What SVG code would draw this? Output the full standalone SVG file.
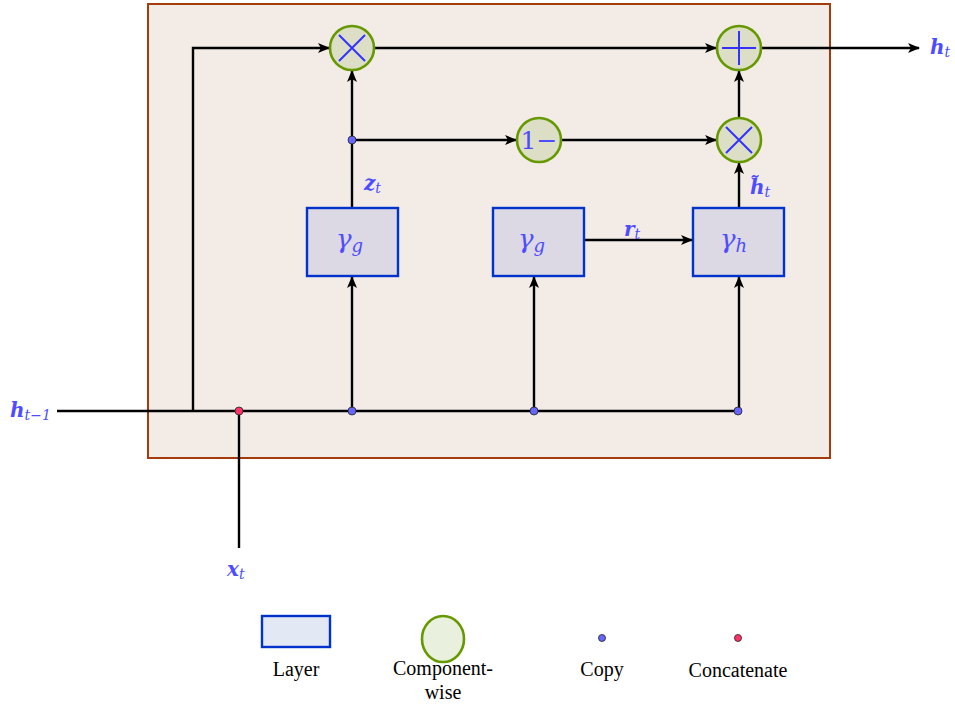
<svg xmlns="http://www.w3.org/2000/svg" width="955" height="706" viewBox="0 0 955 706">
<style>
.ln{stroke:#000;stroke-width:2.4;fill:none}
.arr{marker-end:url(#ah)}
.op{fill:#dcdfc6;stroke:#669900;stroke-width:2.6}
.sym{stroke:#3333ff;stroke-width:2;fill:none}
.layer{fill:#dcd8e4;stroke:#0033cc;stroke-width:2.4}
.cp{fill:#6666ff;stroke:#222;stroke-width:0.8}
.cc{fill:#ff3366;stroke:#222;stroke-width:0.8}
.gl{font-family:"DejaVu Serif",serif;font-style:italic;fill:#4d4dff;font-size:26px}
.lab{font-family:"DejaVu Serif",serif;font-style:italic;font-weight:bold;fill:#4d4dff;font-size:20px}
.sub{font-family:"DejaVu Serif",serif;font-style:italic;font-weight:normal;font-size:14px}
.leg{font-family:"Liberation Serif",serif;fill:#000;font-size:20px;text-anchor:middle}
</style>
<defs>
<marker id="ah" viewBox="0 0 12 10" refX="11" refY="5" markerWidth="12" markerHeight="10" markerUnits="userSpaceOnUse" orient="auto">
<path d="M0,0 L12,5 L0,10 L3,5 Z" fill="#000"/>
</marker>
</defs>
<rect id="cell" x="148" y="4" width="682" height="454" fill="#f3ebe6" stroke="#a33c0c" stroke-width="2"/>
<g id="connectors">
<path class="ln" d="M57,411 H739"/>
<path class="ln arr" d="M193,411 V48 H329"/>
<path class="ln" d="M239,411 V548"/>
<path class="ln arr" d="M352,411 V277"/>
<path class="ln arr" d="M534,411 V277"/>
<path class="ln arr" d="M739,411 V277"/>
<path class="ln arr" d="M352,208 V71"/>
<path class="ln arr" d="M352,140 H516"/>
<path class="ln arr" d="M561,140 H716"/>
<path class="ln arr" d="M739,208 V163"/>
<path class="ln arr" d="M739,118 V71"/>
<path class="ln arr" d="M374,48 H716"/>
<path class="ln arr" d="M761,48 H919"/>
<path class="ln arr" d="M584,240 H692"/>
</g>
<g id="mul1"><circle class="op" cx="352" cy="48" r="22"/><path class="sym" d="M339,35 L365,61 M365,35 L339,61"/></g>
<g id="add"><circle class="op" cx="739" cy="48" r="22"/><path class="sym" d="M722,48 H756 M739,31 V65"/></g>
<g id="oneminus"><circle class="op" cx="539" cy="140" r="22"/><text x="539" y="149" style="font-family:'DejaVu Serif',serif;fill:#4d4dff;font-size:25px" text-anchor="middle">1−</text></g>
<g id="mul2"><circle class="op" cx="739" cy="140" r="22"/><path class="sym" d="M726,127 L752,153 M752,127 L726,153"/></g>
<g id="gz"><rect class="layer" x="307" y="208" width="91" height="68"/><text class="gl" x="336" y="248">γ<tspan class="sub" style="font-size:18px" dy="4">g</tspan></text></g>
<g id="gr"><rect class="layer" x="493" y="208" width="91" height="68"/><text class="gl" x="518" y="248">γ<tspan class="sub" style="font-size:18px" dy="4">g</tspan></text></g>
<g id="gh"><rect class="layer" x="693" y="208" width="91" height="68"/><text class="gl" x="720" y="248">γ<tspan class="sub" style="font-size:18px" dy="4">h</tspan></text></g>
<g id="dots">
<circle class="cc" cx="239" cy="411" r="4"/>
<circle class="cp" cx="352" cy="411" r="4"/>
<circle class="cp" cx="534" cy="411" r="4"/>
<circle class="cp" cx="738" cy="411" r="4"/>
<circle class="cp" cx="352" cy="140" r="4"/>
</g>
<g id="labels">
<text class="lab" x="930" y="54">h<tspan class="sub" dy="3">t</tspan></text>
<text class="lab" x="10" y="417">h<tspan class="sub" dy="3">t−1</tspan></text>
<text class="lab" x="364" y="190">z<tspan class="sub" dy="3">t</tspan></text>
<text class="lab" x="750" y="194">h̃<tspan class="sub" dy="3">t</tspan></text>
<text class="lab" x="624" y="236">r<tspan class="sub" dy="3">t</tspan></text>
<text class="lab" x="227" y="576">x<tspan class="sub" dy="3">t</tspan></text>
</g>
<g id="legend">
<rect x="262" y="616" width="68" height="31" fill="#e3e8f5" stroke="#0033cc" stroke-width="2.4"/>
<ellipse cx="443" cy="639" rx="21" ry="23" fill="#e9f0dd" stroke="#669900" stroke-width="2.6"/>
<circle class="cp" cx="602" cy="638" r="3.5"/>
<circle class="cc" cx="738" cy="638" r="3.5"/>
<text class="leg" x="296" y="676">Layer</text>
<text class="leg" x="443" y="675">Component-</text>
<text class="leg" x="443" y="699">wise</text>
<text class="leg" x="602" y="676">Copy</text>
<text class="leg" x="738" y="677">Concatenate</text>
</g>
</svg>
